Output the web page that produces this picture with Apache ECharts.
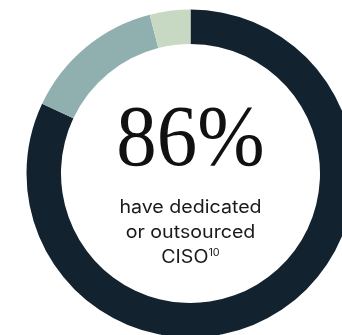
<!DOCTYPE html>
<html>
<head>
<meta charset="utf-8">
<script src="https://cdn.jsdelivr.net/npm/echarts@6/dist/echarts.min.js"></script>
<style>
  html, body { margin: 0; padding: 0; background: #ffffff; }
  #chart { width: 342px; height: 335px; }
</style>
</head>
<body>
<div id="chart"></div>
<script>
// CISO coverage shares (percent)
const categories = ['Dedicated CISO', 'No CISO', 'Outsourced CISO'];
const shares = [82, 14, 4];
const colors = ['#12222f', '#8fb0ae', '#c8d9c3'];
const headline = '86%';
const captionLines = ['have dedicated', 'or outsourced'];
const captionLast = 'CISO';
const footnote = '10';

const chart = echarts.init(document.getElementById('chart'), null, { renderer: 'canvas' });

const cx = 190.5, cy = 173.5;
const captionFont = '400 18px Inter, "Noto Sans", sans-serif';
const captionScale = 1.09;

chart.setOption({
  animation: false,
  series: [{
    type: 'pie',
    center: [cx, cy],
    radius: [129.5, 164],
    startAngle: 90,
    clockwise: true,
    silent: true,
    label: { show: false },
    labelLine: { show: false },
    itemStyle: { borderWidth: 0 },
    data: categories.map((name, i) => ({
      name,
      value: shares[i],
      itemStyle: { color: colors[i] }
    }))
  }],
  graphic: [
    {
      type: 'text',
      x: cx,
      y: 186,
      scaleX: 0.93,
      style: {
        text: headline,
        x: 0,
        y: 0,
        textAlign: 'center',
        textVerticalAlign: 'bottom',
        font: '400 87px "Liberation Serif", serif',
        fill: '#111111'
      }
    },
    {
      type: 'text',
      x: cx,
      y: 207.5,
      scaleX: captionScale,
      style: {
        text: captionLines[0],
        textAlign: 'center',
        textVerticalAlign: 'middle',
        font: captionFont,
        fill: '#1a1a1a'
      }
    },
    {
      type: 'text',
      x: cx,
      y: 233,
      scaleX: captionScale,
      style: {
        text: captionLines[1],
        textAlign: 'center',
        textVerticalAlign: 'middle',
        font: captionFont,
        fill: '#1a1a1a'
      }
    },
    {
      type: 'text',
      x: cx,
      y: 257.5,
      scaleX: captionScale,
      style: {
        text: '{main|' + captionLast + '}{sup|' + footnote + '}',
        textAlign: 'center',
        textVerticalAlign: 'middle',
        fill: '#1a1a1a',
        rich: {
          main: { font: captionFont, fill: '#1a1a1a', lineHeight: 20 },
          sup: { font: '400 10px Inter, "Noto Sans", sans-serif', fill: '#1a1a1a', verticalAlign: 'top', lineHeight: 20, padding: [0, 0, 7, 0] }
        }
      }
    }
  ]
});
</script>
</body>
</html>
